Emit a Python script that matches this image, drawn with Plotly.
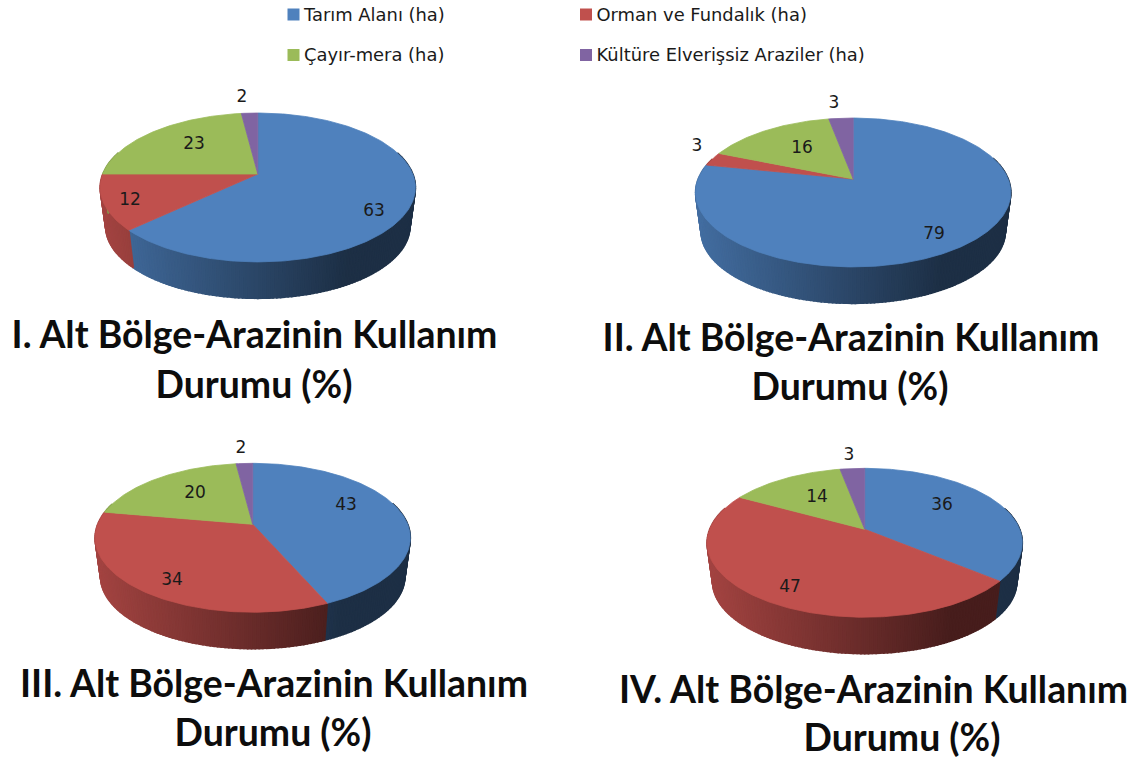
import numpy as np
import plotly.graph_objects as go

categories = ["Tarım Alanı (ha)", "Orman ve Fundalık (ha)", "Çayır-mera (ha)", "Kültüre Elverişsiz Araziler (ha)"]
colors = ["#4F81BD", "#C0504D", "#9BBB59", "#8064A2"]
values_I = [63, 12, 23, 2]
values_II = [79, 3, 16, 3]
values_III = [43, 34, 20, 2]
values_IV = [36, 47, 14, 3]
title_line_1 = ["I. Alt Bölge-Arazinin Kullanım", "II. Alt Bölge-Arazinin Kullanım",
                "III. Alt Bölge-Arazinin Kullanım", "IV. Alt Bölge-Arazinin Kullanım"]
title_line_2 = "Durumu (%)"

# layout (pixel-like paper axes)
pie_apex = [(257.8, 174), (853.2, 179), (252.7, 524.3), (864.7, 529.3)]
label_pos = [
    [(374, 212), (130, 201), (194, 145), (242, 98)],
    [(934, 235), (697, 147), (802, 149), (834, 104)],
    [(346, 506), (172, 581), (195, 494), (241, 449)],
    [(942, 506), (790, 588), (817, 498), (849, 456)],
]
title_pos = [((254.5, 339), (254, 389)), ((851, 342), (850, 391)),
             ((274, 688), (273, 737)), ((873.5, 694), (902, 742))]
legend_pos = [(293.5, 14.5), (586, 14.5), (293.5, 55), (586, 55)]
A, B, K = 155.0, 72.0, 0.181     # perspective of the top face
SHRINK, DEPTH = 0.965, 39.5      # bottom rim
TXT = "#1a1a1a"


def rim(theta, cx, cy, s=1.0, d=0.0):
    u, v = np.sin(theta), -np.cos(theta)
    w = 1 - K * v
    return cx + s * A * u / w, cy + s * B * v / w + d


def shade(hex_color, f):
    r, g, b = (int(hex_color[i:i + 2], 16) for i in (1, 3, 5))
    return f"rgb({int(r * f)},{int(g * f)},{int(b * f)})"


fig = go.Figure()


def poly(xs, ys, color, lw=1.0):
    fig.add_trace(go.Scatter(x=list(xs), y=list(ys), mode="lines", fill="toself", fillcolor=color,
                             line=dict(color=color, width=lw), hoverinfo="skip", showlegend=False))


all_values = [values_I, values_II, values_III, values_IV]
for vals, (cx, cy), labels in zip(all_values, pie_apex, label_pos):
    total = sum(vals)
    edges = np.cumsum([0] + vals) / total * 2 * np.pi
    xmin, xmax = cx - A * 1.017, cx + A * 1.017
    # side wall, front half only, strip by strip
    for i, c in enumerate(colors):
        t0, t1 = edges[i], edges[i + 1]
        n = max(2, int((t1 - t0) / np.radians(1.2)))
        grid = np.linspace(t0, t1, n + 1)
        for a, b in zip(grid[:-1], grid[1:]):
            m = (a + b) / 2
            if np.cos(m) > 0.3:
                continue
            xa, ya = rim(a, cx, cy)
            xb, yb = rim(b, cx, cy)
            xc, yc = rim(b, cx, cy, SHRINK, DEPTH)
            xd, yd = rim(a, cx, cy, SHRINK, DEPTH)
            t = min(((xa + xb) / 2 - xmin) / (xmax - xmin) / 0.78, 1.0)
            poly([xa, xb, xc, xd, xa], [ya, yb, yc, yd, ya], shade(c, 0.85 - 0.48 * t), lw=1.6)
    # top face
    for i, c in enumerate(colors):
        grid = np.linspace(edges[i], edges[i + 1], max(4, int(vals[i] * 4)))
        xs, ys = rim(grid, cx, cy)
        poly(np.r_[cx, xs, cx], np.r_[cy, ys, cy], c, lw=0.8)
    # value labels
    fig.add_trace(go.Scatter(x=[p[0] for p in labels], y=[p[1] for p in labels], mode="text",
                             text=[str(v) for v in vals], textposition="middle center",
                             textfont=dict(family="DejaVu Sans", size=17, color=TXT),
                             hoverinfo="skip", showlegend=False))

# titles
for line, (p1, p2) in zip(title_line_1, title_pos):
    fig.add_trace(go.Scatter(x=[p1[0], p2[0]], y=[p1[1], p2[1]], mode="text", text=[f"<b>{line}</b>", f"<b>{title_line_2}</b>"],
                             textposition="middle center",
                             textfont=dict(family="Lato", size=37.4, color="#0d0d0d"),
                             hoverinfo="skip", showlegend=False))

# legend
for name, c, (x, y) in zip(categories, colors, legend_pos):
    fig.add_trace(go.Scatter(x=[x], y=[y], mode="markers", marker=dict(symbol="square", size=12, color=c),
                             hoverinfo="skip", showlegend=False))
    fig.add_trace(go.Scatter(x=[x + 10.5], y=[y + 2], mode="text", text=[name], textposition="middle right",
                             textfont=dict(family="DejaVu Sans", size=17.9, color=TXT),
                             hoverinfo="skip", showlegend=False))

fig.update_layout(width=1135, height=758, margin=dict(l=0, r=0, t=0, b=0), paper_bgcolor="white",
                  plot_bgcolor="white", showlegend=False,
                  xaxis=dict(range=[0, 1135], visible=False, fixedrange=True),
                  yaxis=dict(range=[758, 0], visible=False, fixedrange=True))
fig.write_html("out.html", config={"displayModeBar": False},
               post_script="document.body.style.margin='0';document.documentElement.style.overflow='hidden';")
